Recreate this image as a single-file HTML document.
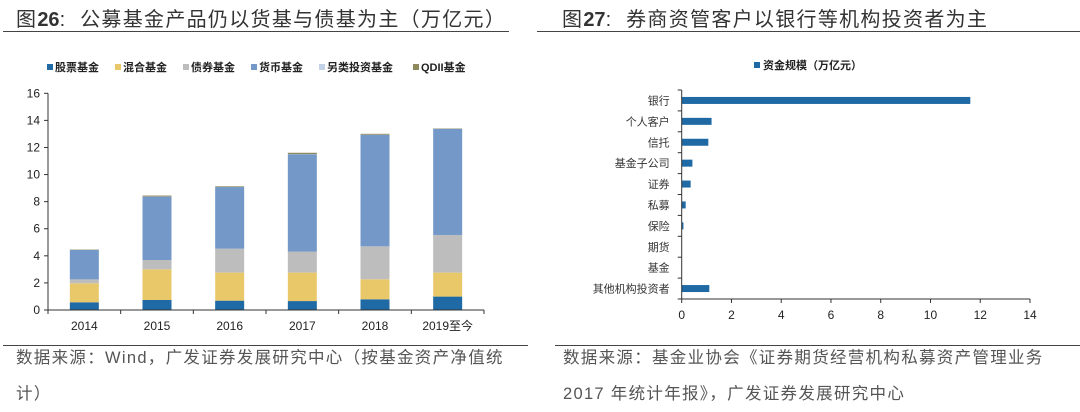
<!DOCTYPE html>
<html><head><meta charset="utf-8">
<style>
body{margin:0;width:1080px;height:408px;background:#fff;overflow:hidden;font-family:"Liberation Sans","Noto Sans CJK SC",sans-serif;}
.t{position:absolute;font-size:20px;letter-spacing:1.3px;color:#333;white-space:nowrap}
.t b{font-weight:bold;letter-spacing:0}
.rule{position:absolute;height:1px;background:#444}
.src{position:absolute;font-size:16.5px;letter-spacing:1.3px;color:#555;line-height:36px;white-space:nowrap}
svg{position:absolute;left:0;top:0}
</style></head><body>
<div class="t" style="left:16px;top:3px">图<b>26</b>:&nbsp; 公募基金产品仍以货基与债基为主（万亿元）</div>
<div class="t" style="left:562px;top:3px">图<b>27</b>:&nbsp; 券商资管客户以银行等机构投资者为主</div>
<div class="rule" style="left:3px;top:31px;width:506px"></div>
<div class="rule" style="left:537px;top:31px;width:543px"></div>
<div class="rule" style="left:3px;top:345px;width:525px"></div>
<div class="rule" style="left:555px;top:345px;width:525px"></div>
<div class="src" style="left:16px;top:340px">数据来源：Wind，广发证券发展研究中心（按基金资产净值统<br>计）</div>
<div class="src" style="left:563px;top:340px">数据来源：基金业协会《证券期货经营机构私募资产管理业务<br>2017 年统计年报》，广发证券发展研究中心</div>
<svg id="c" width="1080" height="408"></svg>
<script>
const years=['2014','2015','2016','2017','2018','2019至今'];
const seriesNames=['股票基金','混合基金','债券基金','货币基金','另类投资基金','QDII基金'];
const stock=[0.57,0.74,0.69,0.66,0.79,0.99];
const mixed=[1.4,2.26,2.07,2.1,1.48,1.77];
const bond=[0.29,0.69,1.77,1.55,2.43,2.78];
const money=[2.17,4.68,4.55,7.19,8.23,7.83];
const alt=[0.01,0.01,0.01,0.01,0.01,0.01];
const qdii=[0.03,0.07,0.05,0.1,0.07,0.03];
const leftTicks=[0,2,4,6,8,10,12,14,16];
const colors=['#1f6aa5','#e9c86a','#bdbdbd','#7499c9','#c2d3e8','#8f8a5e'];
const investors=['银行','个人客户','信托','基金子公司','证券','私募','保险','期货','基金','其他机构投资者'];
const funds=[11.6,1.2,1.07,0.43,0.36,0.16,0.07,0.01,0,1.11];
const rightTicks=[0,2,4,6,8,10,12,14];

const svg=document.getElementById('c');const NS='http://www.w3.org/2000/svg';
function mk(t,a,txt){const e=document.createElementNS(NS,t);for(const k in a)e.setAttribute(k,a[k]);if(txt!==undefined)e.textContent=txt;svg.appendChild(e);return e;}
const L={x0:48,x1:484,y0:310,y1:93.3,max:16};
const ly=v=>L.y0-(v/L.max)*(L.y0-L.y1);
const cw=(L.x1-L.x0)/years.length;
const series=[stock,mixed,bond,money,alt,qdii];
years.forEach((y,i)=>{let acc=0;const cx=L.x0+cw*(i+0.5);
 series.forEach((s,k)=>{const v=s[i];const r=mk('rect',{x:cx-14.5,y:ly(acc+v),width:29,height:Math.max(0,ly(acc)-ly(acc+v)),fill:colors[k]});
 
 
 acc+=v;});
 const t=mk('text',{x:cx,y:330,'text-anchor':'middle','font-size':12,fill:'#222'},y);
 
 
});
mk('line',{x1:L.x0,y1:L.y1,x2:L.x0,y2:L.y0,stroke:'#333'});
mk('line',{x1:L.x0,y1:L.y0,x2:L.x1,y2:L.y0,stroke:'#333'});
for(let i=0;i<=years.length;i++){const x=L.x0+cw*i;mk('line',{x1:x,y1:L.y0,x2:x,y2:L.y0+4,stroke:'#333'});}
leftTicks.forEach(v=>{mk('line',{x1:L.x0-4,y1:ly(v),x2:L.x0,y2:ly(v),stroke:'#333'});
 const t=mk('text',{x:L.x0-8,y:ly(v)+4,'text-anchor':'end','font-size':12,fill:'#222'},v);
 
 });
const lx=[47,115,183,251,319,413];
seriesNames.forEach((n,k)=>{mk('rect',{x:lx[k],y:64,width:6,height:6,fill:colors[k]});
 const t=mk('text',{x:lx[k]+8,y:71,'font-size':11,'font-weight':'bold',fill:'#222'},n);
 
 });
const R={x0:681.7,x1:1030,y0:90,y1:299,max:14};
const rx=v=>R.x0+(v/R.max)*(R.x1-R.x0);
const rh=(R.y1-R.y0)/investors.length;
investors.forEach((n,i)=>{const cy=R.y0+rh*(i+0.5);
 const r=mk('rect',{x:R.x0,y:cy-3.5,width:rx(funds[i])-R.x0,height:7,fill:'#1f6aa5'});
 
 
 const t=mk('text',{x:R.x0-12,y:cy+4,'text-anchor':'end','font-size':11,fill:'#333'},n);
 
 });
mk('line',{x1:R.x0,y1:R.y0,x2:R.x0,y2:R.y1,stroke:'#333'});
mk('line',{x1:R.x0,y1:R.y1,x2:R.x1,y2:R.y1,stroke:'#333'});
for(let i=0;i<=investors.length;i++){const y=R.y0+rh*i;mk('line',{x1:R.x0-4,y1:y,x2:R.x0,y2:y,stroke:'#333'});}
rightTicks.forEach(v=>{mk('line',{x1:rx(v),y1:R.y1,x2:rx(v),y2:R.y1+4,stroke:'#333'});
 const t=mk('text',{x:rx(v),y:R.y1+20,'text-anchor':'middle','font-size':12,fill:'#222'},v);
 
 });
mk('rect',{x:754,y:62,width:6,height:6,fill:'#1f6aa5'});
const lg=mk('text',{x:763,y:69,'font-size':11,'font-weight':'bold',fill:'#222'},'资金规模（万亿元）');


</script>
</body></html>
